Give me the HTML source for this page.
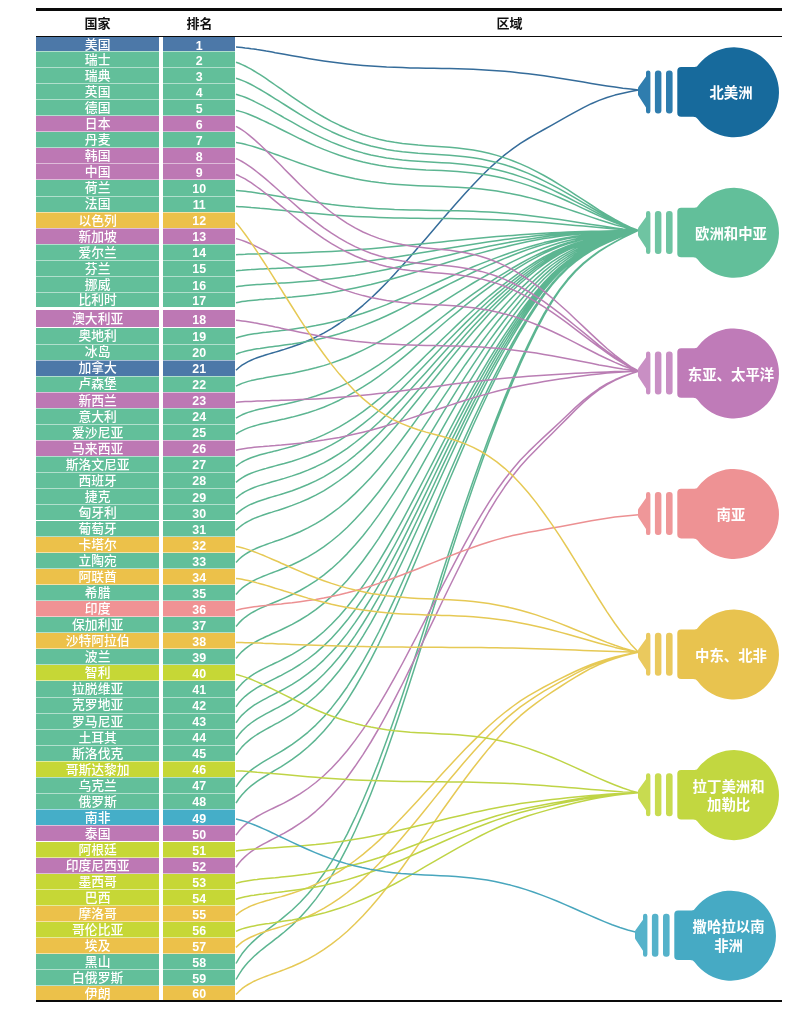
<!DOCTYPE html>
<html lang="zh-CN"><head><meta charset="utf-8"><title>排名</title>
<style>
html,body{margin:0;padding:0;background:#fff;}
body{width:800px;height:1012px;position:relative;overflow:hidden;font-family:"Liberation Sans","Noto Sans CJK SC",sans-serif;}
.b{position:absolute;left:36px;width:199.4px;}
.s{position:absolute;left:36px;width:199.4px;height:1px;background:rgba(255,255,255,0.5);}
.g{position:absolute;left:159.3px;width:3.6px;top:37px;height:964px;background:#fff;}
.r{position:absolute;left:36px;width:123.3px;height:16px;line-height:16px;color:#fff;font-size:12.8px;font-weight:500;text-align:center;white-space:nowrap;}
.k{position:absolute;left:163px;width:72.4px;height:16px;line-height:16px;color:#fff;font-size:12.4px;font-weight:bold;text-align:center;white-space:nowrap;}
.h{position:absolute;top:14px;height:19px;line-height:19px;font-size:13px;font-weight:bold;color:#111;text-align:center;width:60px;}
.ln{position:absolute;left:36px;width:745.5px;background:#0a0a0a;}
svg{position:absolute;left:0;top:0;}
svg text{font-family:"Liberation Sans","Noto Sans CJK SC",sans-serif;font-weight:bold;font-size:14.4px;fill:#fff;text-anchor:middle;}
</style></head><body>
<div class="ln" style="top:8.2px;height:2.4px"></div>
<div class="h" style="left:67.6px">国家</div><div class="h" style="left:169.5px">排名</div><div class="h" style="left:479.6px">区域</div>
<div class="b" style="top:36.50px;height:14.90px;background:#4c78a8"></div><div class="r" style="top:37px">美国</div><div class="k" style="top:38px">1</div>
<div class="b" style="top:51.40px;height:16.07px;background:#62bf9a"></div><div class="r" style="top:52px">瑞士</div><div class="k" style="top:53px">2</div>
<div class="b" style="top:67.47px;height:16.07px;background:#62bf9a"></div><div class="r" style="top:68px">瑞典</div><div class="k" style="top:69px">3</div>
<div class="b" style="top:83.54px;height:16.07px;background:#62bf9a"></div><div class="r" style="top:84px">英国</div><div class="k" style="top:85px">4</div>
<div class="b" style="top:99.61px;height:16.07px;background:#62bf9a"></div><div class="r" style="top:100px">德国</div><div class="k" style="top:101px">5</div>
<div class="b" style="top:115.68px;height:16.07px;background:#bd78b4"></div><div class="r" style="top:116px">日本</div><div class="k" style="top:117px">6</div>
<div class="b" style="top:131.75px;height:16.07px;background:#62bf9a"></div><div class="r" style="top:132px">丹麦</div><div class="k" style="top:133px">7</div>
<div class="b" style="top:147.82px;height:16.07px;background:#bd78b4"></div><div class="r" style="top:148px">韩国</div><div class="k" style="top:149px">8</div>
<div class="b" style="top:163.89px;height:16.07px;background:#bd78b4"></div><div class="r" style="top:164px">中国</div><div class="k" style="top:165px">9</div>
<div class="b" style="top:179.96px;height:16.07px;background:#62bf9a"></div><div class="r" style="top:180px">荷兰</div><div class="k" style="top:181px">10</div>
<div class="b" style="top:196.03px;height:16.07px;background:#62bf9a"></div><div class="r" style="top:196px">法国</div><div class="k" style="top:197px">11</div>
<div class="b" style="top:212.10px;height:16.07px;background:#ecc14a"></div><div class="r" style="top:213px">以色列</div><div class="k" style="top:213px">12</div>
<div class="b" style="top:228.17px;height:16.07px;background:#bd78b4"></div><div class="r" style="top:229px">新加坡</div><div class="k" style="top:229px">13</div>
<div class="b" style="top:244.24px;height:16.07px;background:#62bf9a"></div><div class="r" style="top:245px">爱尔兰</div><div class="k" style="top:245px">14</div>
<div class="b" style="top:260.31px;height:16.07px;background:#62bf9a"></div><div class="r" style="top:261px">芬兰</div><div class="k" style="top:261px">15</div>
<div class="b" style="top:276.38px;height:16.07px;background:#62bf9a"></div><div class="r" style="top:277px">挪威</div><div class="k" style="top:278px">16</div>
<div class="b" style="top:292.45px;height:14.77px;background:#62bf9a"></div><div class="r" style="top:292px">比利时</div><div class="k" style="top:293px">17</div>
<div class="b" style="top:309.82px;height:17.18px;background:#bd78b4"></div><div class="r" style="top:311px">澳大利亚</div><div class="k" style="top:312px">18</div>
<div class="b" style="top:328.00px;height:16.00px;background:#62bf9a"></div><div class="r" style="top:328px">奥地利</div><div class="k" style="top:329px">19</div>
<div class="b" style="top:344.00px;height:16.00px;background:#62bf9a"></div><div class="r" style="top:344px">冰岛</div><div class="k" style="top:345px">20</div>
<div class="b" style="top:360.00px;height:16.05px;background:#4c78a8"></div><div class="r" style="top:360px">加拿大</div><div class="k" style="top:361px">21</div>
<div class="b" style="top:376.05px;height:16.05px;background:#62bf9a"></div><div class="r" style="top:376px">卢森堡</div><div class="k" style="top:377px">22</div>
<div class="b" style="top:392.10px;height:16.05px;background:#bd78b4"></div><div class="r" style="top:393px">新西兰</div><div class="k" style="top:393px">23</div>
<div class="b" style="top:408.15px;height:16.05px;background:#62bf9a"></div><div class="r" style="top:409px">意大利</div><div class="k" style="top:409px">24</div>
<div class="b" style="top:424.20px;height:16.05px;background:#62bf9a"></div><div class="r" style="top:425px">爱沙尼亚</div><div class="k" style="top:425px">25</div>
<div class="b" style="top:440.25px;height:16.05px;background:#bd78b4"></div><div class="r" style="top:441px">马来西亚</div><div class="k" style="top:441px">26</div>
<div class="b" style="top:456.30px;height:16.05px;background:#62bf9a"></div><div class="r" style="top:457px">斯洛文尼亚</div><div class="k" style="top:457px">27</div>
<div class="b" style="top:472.35px;height:16.05px;background:#62bf9a"></div><div class="r" style="top:473px">西班牙</div><div class="k" style="top:473px">28</div>
<div class="b" style="top:488.40px;height:16.05px;background:#62bf9a"></div><div class="r" style="top:489px">捷克</div><div class="k" style="top:490px">29</div>
<div class="b" style="top:504.45px;height:16.05px;background:#62bf9a"></div><div class="r" style="top:505px">匈牙利</div><div class="k" style="top:506px">30</div>
<div class="b" style="top:520.50px;height:16.05px;background:#62bf9a"></div><div class="r" style="top:521px">葡萄牙</div><div class="k" style="top:522px">31</div>
<div class="b" style="top:536.55px;height:16.05px;background:#ecc14a"></div><div class="r" style="top:537px">卡塔尔</div><div class="k" style="top:538px">32</div>
<div class="b" style="top:552.60px;height:16.05px;background:#62bf9a"></div><div class="r" style="top:553px">立陶宛</div><div class="k" style="top:554px">33</div>
<div class="b" style="top:568.65px;height:16.05px;background:#ecc14a"></div><div class="r" style="top:569px">阿联酋</div><div class="k" style="top:570px">34</div>
<div class="b" style="top:584.70px;height:16.05px;background:#62bf9a"></div><div class="r" style="top:585px">希腊</div><div class="k" style="top:586px">35</div>
<div class="b" style="top:600.75px;height:16.05px;background:#f09294"></div><div class="r" style="top:601px">印度</div><div class="k" style="top:602px">36</div>
<div class="b" style="top:616.80px;height:16.05px;background:#62bf9a"></div><div class="r" style="top:617px">保加利亚</div><div class="k" style="top:618px">37</div>
<div class="b" style="top:632.85px;height:16.05px;background:#ecc14a"></div><div class="r" style="top:633px">沙特阿拉伯</div><div class="k" style="top:634px">38</div>
<div class="b" style="top:648.90px;height:16.05px;background:#62bf9a"></div><div class="r" style="top:649px">波兰</div><div class="k" style="top:650px">39</div>
<div class="b" style="top:664.95px;height:16.05px;background:#c6d736"></div><div class="r" style="top:665px">智利</div><div class="k" style="top:666px">40</div>
<div class="b" style="top:681.00px;height:16.05px;background:#62bf9a"></div><div class="r" style="top:681px">拉脱维亚</div><div class="k" style="top:682px">41</div>
<div class="b" style="top:697.05px;height:16.05px;background:#62bf9a"></div><div class="r" style="top:697px">克罗地亚</div><div class="k" style="top:698px">42</div>
<div class="b" style="top:713.10px;height:16.05px;background:#62bf9a"></div><div class="r" style="top:714px">罗马尼亚</div><div class="k" style="top:714px">43</div>
<div class="b" style="top:729.15px;height:16.05px;background:#62bf9a"></div><div class="r" style="top:730px">土耳其</div><div class="k" style="top:730px">44</div>
<div class="b" style="top:745.20px;height:16.05px;background:#62bf9a"></div><div class="r" style="top:746px">斯洛伐克</div><div class="k" style="top:746px">45</div>
<div class="b" style="top:761.25px;height:16.05px;background:#c6d736"></div><div class="r" style="top:762px">哥斯达黎加</div><div class="k" style="top:762px">46</div>
<div class="b" style="top:777.30px;height:16.05px;background:#62bf9a"></div><div class="r" style="top:778px">乌克兰</div><div class="k" style="top:778px">47</div>
<div class="b" style="top:793.35px;height:16.05px;background:#62bf9a"></div><div class="r" style="top:794px">俄罗斯</div><div class="k" style="top:794px">48</div>
<div class="b" style="top:809.40px;height:16.05px;background:#45aec8"></div><div class="r" style="top:810px">南非</div><div class="k" style="top:811px">49</div>
<div class="b" style="top:825.45px;height:16.05px;background:#bd78b4"></div><div class="r" style="top:826px">泰国</div><div class="k" style="top:827px">50</div>
<div class="b" style="top:841.50px;height:16.05px;background:#c6d736"></div><div class="r" style="top:842px">阿根廷</div><div class="k" style="top:843px">51</div>
<div class="b" style="top:857.55px;height:16.05px;background:#bd78b4"></div><div class="r" style="top:858px">印度尼西亚</div><div class="k" style="top:859px">52</div>
<div class="b" style="top:873.60px;height:16.05px;background:#c6d736"></div><div class="r" style="top:874px">墨西哥</div><div class="k" style="top:875px">53</div>
<div class="b" style="top:889.65px;height:16.05px;background:#c6d736"></div><div class="r" style="top:890px">巴西</div><div class="k" style="top:891px">54</div>
<div class="b" style="top:905.70px;height:16.05px;background:#ecc14a"></div><div class="r" style="top:906px">摩洛哥</div><div class="k" style="top:907px">55</div>
<div class="b" style="top:921.75px;height:16.05px;background:#c6d736"></div><div class="r" style="top:922px">哥伦比亚</div><div class="k" style="top:923px">56</div>
<div class="b" style="top:937.80px;height:16.05px;background:#ecc14a"></div><div class="r" style="top:938px">埃及</div><div class="k" style="top:939px">57</div>
<div class="b" style="top:953.85px;height:16.05px;background:#62bf9a"></div><div class="r" style="top:954px">黑山</div><div class="k" style="top:955px">58</div>
<div class="b" style="top:969.90px;height:16.05px;background:#62bf9a"></div><div class="r" style="top:970px">白俄罗斯</div><div class="k" style="top:971px">59</div>
<div class="b" style="top:985.95px;height:14.55px;background:#ecc14a"></div><div class="r" style="top:986px">伊朗</div><div class="k" style="top:986px">60</div>
<div class="s" style="top:51px"></div><div class="s" style="top:67px"></div><div class="s" style="top:83px"></div><div class="s" style="top:99px"></div><div class="s" style="top:115px"></div><div class="s" style="top:131px"></div><div class="s" style="top:147px"></div><div class="s" style="top:163px"></div><div class="s" style="top:179px"></div><div class="s" style="top:196px"></div><div class="s" style="top:212px"></div><div class="s" style="top:228px"></div><div class="s" style="top:244px"></div><div class="s" style="top:260px"></div><div class="s" style="top:276px"></div><div class="s" style="top:292px"></div><div class="s" style="top:344px"></div><div class="s" style="top:360px"></div><div class="s" style="top:376px"></div><div class="s" style="top:392px"></div><div class="s" style="top:408px"></div><div class="s" style="top:424px"></div><div class="s" style="top:440px"></div><div class="s" style="top:456px"></div><div class="s" style="top:472px"></div><div class="s" style="top:488px"></div><div class="s" style="top:504px"></div><div class="s" style="top:520px"></div><div class="s" style="top:536px"></div><div class="s" style="top:552px"></div><div class="s" style="top:568px"></div><div class="s" style="top:584px"></div><div class="s" style="top:600px"></div><div class="s" style="top:616px"></div><div class="s" style="top:632px"></div><div class="s" style="top:648px"></div><div class="s" style="top:664px"></div><div class="s" style="top:680px"></div><div class="s" style="top:697px"></div><div class="s" style="top:713px"></div><div class="s" style="top:729px"></div><div class="s" style="top:745px"></div><div class="s" style="top:761px"></div><div class="s" style="top:777px"></div><div class="s" style="top:793px"></div><div class="s" style="top:809px"></div><div class="s" style="top:825px"></div><div class="s" style="top:841px"></div><div class="s" style="top:857px"></div><div class="s" style="top:873px"></div><div class="s" style="top:889px"></div><div class="s" style="top:905px"></div><div class="s" style="top:921px"></div><div class="s" style="top:937px"></div><div class="s" style="top:953px"></div><div class="s" style="top:969px"></div><div class="s" style="top:985px"></div><div class="g"></div>
<div class="ln" style="top:35.9px;height:1.4px"></div>
<div class="ln" style="top:999.6px;height:2.8px"></div>
<svg width="800" height="1012" viewBox="0 0 800 1012">
<path d="M236.0,47.0 239.0,47.2 242.0,47.5 245.1,47.9 248.1,48.2 251.1,48.7 254.1,49.1 257.1,49.6 260.1,50.0 263.2,50.5 266.2,51.1 269.2,51.6 272.2,52.1 275.2,52.7 278.3,53.2 281.3,53.7 284.3,54.3 292.2,55.7 300.0,57.1 307.9,58.4 315.8,59.7 323.7,60.9 331.5,62.0 339.4,63.0 347.3,63.9 355.1,64.7 363.0,65.4 370.9,66.0 378.8,66.5 386.6,67.0 394.5,67.3 402.4,67.6 410.2,67.9 418.1,68.0 426.0,68.2 433.9,68.3 441.7,68.5 449.6,68.6 457.5,68.8 465.3,69.0 473.2,69.3 481.1,69.7 488.9,70.2 496.8,70.7 504.7,71.3 512.6,72.0 520.4,72.9 528.3,73.8 536.2,74.8 544.0,75.8 551.9,77.0 559.8,78.2 567.7,79.5 575.5,80.8 583.4,82.1 591.3,83.4 599.1,84.7 607.0,85.9 614.9,87.1 622.8,88.2 630.6,89.1 638.5,89.9 M236.0,370.2 239.0,367.5 242.0,365.2 245.1,363.3 248.1,361.6 251.1,360.2 254.1,358.9 257.1,357.8 260.1,356.7 263.2,355.8 266.2,354.8 269.2,353.9 272.2,353.0 275.2,352.1 278.3,351.2 281.3,350.3 284.3,349.4 292.2,346.8 300.0,344.0 307.9,340.8 315.8,337.2 323.7,333.1 331.5,328.6 339.4,323.5 347.3,318.0 355.1,311.9 363.0,305.3 370.9,298.2 378.8,290.6 386.6,282.7 394.5,274.3 402.4,265.6 410.2,256.7 418.1,247.6 426.0,238.4 433.9,229.2 441.7,220.0 449.6,210.9 457.5,201.9 465.3,193.2 473.2,184.7 481.1,176.5 488.9,168.8 496.8,161.6 504.7,154.9 512.6,148.9 520.4,143.4 528.3,138.5 536.2,133.9 544.0,129.5 551.9,125.1 559.8,120.7 567.7,116.2 575.5,111.8 583.4,107.6 591.3,103.7 599.1,100.4 607.0,97.5 614.9,95.1 622.8,93.2 630.6,91.5 638.5,90.0" fill="none" stroke="#356c9a" stroke-width="1.5" stroke-linejoin="round"/>
<path d="M236.0,62.3 239.0,63.3 242.0,64.6 245.1,66.0 248.1,67.6 251.1,69.2 254.1,71.0 257.1,72.8 260.1,74.7 263.2,76.7 266.2,78.7 269.2,80.8 272.2,82.9 275.2,85.0 278.3,87.1 281.3,89.2 284.3,91.3 292.2,96.8 300.0,102.2 307.9,107.4 315.8,112.4 323.7,117.0 331.5,121.3 339.4,125.2 347.3,128.8 355.1,131.9 363.0,134.7 370.9,137.1 378.8,139.2 386.6,140.9 394.5,142.3 402.4,143.4 410.2,144.3 418.1,145.1 426.0,145.7 433.9,146.2 441.7,146.7 449.6,147.3 457.5,148.1 465.3,149.0 473.2,150.1 481.1,151.6 488.9,153.3 496.8,155.4 504.7,157.9 512.6,160.7 520.4,163.9 528.3,167.4 536.2,171.3 544.0,175.5 551.9,180.0 559.8,184.8 567.7,189.7 575.5,194.8 583.4,199.9 591.3,205.0 599.1,210.1 607.0,214.9 614.9,219.5 622.8,223.7 630.6,227.4 638.5,230.5 M236.0,78.3 239.0,79.2 242.0,80.4 245.1,81.6 248.1,83.0 251.1,84.5 254.1,86.1 257.1,87.8 260.1,89.5 263.2,91.3 266.2,93.1 269.2,95.0 272.2,96.9 275.2,98.8 278.3,100.7 281.3,102.6 284.3,104.5 292.2,109.5 300.0,114.4 307.9,119.1 315.8,123.6 323.7,127.8 331.5,131.7 339.4,135.2 347.3,138.4 355.1,141.3 363.0,143.8 370.9,146.0 378.8,147.8 386.6,149.4 394.5,150.7 402.4,151.7 410.2,152.5 418.1,153.2 426.0,153.7 433.9,154.2 441.7,154.7 449.6,155.2 457.5,155.9 465.3,156.7 473.2,157.8 481.1,159.1 488.9,160.7 496.8,162.6 504.7,164.8 512.6,167.3 520.4,170.2 528.3,173.4 536.2,177.0 544.0,180.8 551.9,184.8 559.8,189.1 567.7,193.6 575.5,198.2 583.4,202.8 591.3,207.5 599.1,212.0 607.0,216.4 614.9,220.6 622.8,224.4 630.6,227.7 638.5,230.5 M236.0,94.3 239.0,95.2 242.0,96.1 245.1,97.3 248.1,98.5 251.1,99.9 254.1,101.3 257.1,102.8 260.1,104.3 263.2,105.9 266.2,107.6 269.2,109.2 272.2,110.9 275.2,112.6 278.3,114.3 281.3,116.0 284.3,117.8 292.2,122.2 300.0,126.6 307.9,130.8 315.8,134.8 323.7,138.6 331.5,142.1 339.4,145.2 347.3,148.1 355.1,150.7 363.0,152.9 370.9,154.9 378.8,156.5 386.6,157.9 394.5,159.1 402.4,160.0 410.2,160.7 418.1,161.3 426.0,161.8 433.9,162.2 441.7,162.7 449.6,163.1 457.5,163.7 465.3,164.5 473.2,165.4 481.1,166.6 488.9,168.0 496.8,169.7 504.7,171.7 512.6,174.0 520.4,176.6 528.3,179.4 536.2,182.6 544.0,186.0 551.9,189.6 559.8,193.5 567.7,197.5 575.5,201.6 583.4,205.7 591.3,209.9 599.1,214.0 607.0,217.9 614.9,221.6 622.8,225.0 630.6,228.0 638.5,230.5 M236.0,110.4 239.0,111.1 242.0,111.9 245.1,112.9 248.1,114.0 251.1,115.2 254.1,116.5 257.1,117.8 260.1,119.2 263.2,120.6 266.2,122.0 269.2,123.5 272.2,124.9 275.2,126.4 278.3,128.0 281.3,129.5 284.3,131.0 292.2,134.9 300.0,138.8 307.9,142.5 315.8,146.1 323.7,149.4 331.5,152.4 339.4,155.3 347.3,157.8 355.1,160.0 363.0,162.0 370.9,163.7 378.8,165.2 386.6,166.4 394.5,167.4 402.4,168.3 410.2,168.9 418.1,169.4 426.0,169.9 433.9,170.2 441.7,170.6 449.6,171.0 457.5,171.6 465.3,172.2 473.2,173.0 481.1,174.1 488.9,175.3 496.8,176.8 504.7,178.6 512.6,180.6 520.4,182.9 528.3,185.4 536.2,188.2 544.0,191.2 551.9,194.4 559.8,197.8 567.7,201.3 575.5,204.9 583.4,208.6 591.3,212.3 599.1,215.9 607.0,219.4 614.9,222.6 622.8,225.6 630.6,228.3 638.5,230.5 M236.0,142.4 239.0,142.9 242.0,143.5 245.1,144.3 248.1,145.1 251.1,145.9 254.1,146.8 257.1,147.8 260.1,148.8 263.2,149.8 266.2,150.9 269.2,152.0 272.2,153.1 275.2,154.2 278.3,155.3 281.3,156.4 284.3,157.5 292.2,160.4 300.0,163.2 307.9,165.9 315.8,168.5 323.7,171.0 331.5,173.2 339.4,175.3 347.3,177.1 355.1,178.8 363.0,180.2 370.9,181.5 378.8,182.6 386.6,183.5 394.5,184.2 402.4,184.8 410.2,185.3 418.1,185.7 426.0,186.0 433.9,186.3 441.7,186.6 449.6,186.9 457.5,187.3 465.3,187.7 473.2,188.3 481.1,189.1 488.9,190.0 496.8,191.1 504.7,192.4 512.6,193.9 520.4,195.6 528.3,197.4 536.2,199.5 544.0,201.7 551.9,204.0 559.8,206.5 567.7,209.1 575.5,211.7 583.4,214.4 591.3,217.1 599.1,219.8 607.0,222.3 614.9,224.7 622.8,226.9 630.6,228.9 638.5,230.5 M236.0,190.5 239.0,190.7 242.0,191.0 245.1,191.3 248.1,191.7 251.1,192.1 254.1,192.5 257.1,192.9 260.1,193.4 263.2,193.8 266.2,194.3 269.2,194.8 272.2,195.3 275.2,195.8 278.3,196.3 281.3,196.8 284.3,197.3 292.2,198.6 300.0,199.9 307.9,201.1 315.8,202.3 323.7,203.4 331.5,204.5 339.4,205.4 347.3,206.2 355.1,207.0 363.0,207.6 370.9,208.2 378.8,208.7 386.6,209.1 394.5,209.5 402.4,209.7 410.2,209.9 418.1,210.1 426.0,210.3 433.9,210.4 441.7,210.5 449.6,210.7 457.5,210.8 465.3,211.1 473.2,211.3 481.1,211.7 488.9,212.1 496.8,212.6 504.7,213.2 512.6,213.8 520.4,214.6 528.3,215.4 536.2,216.4 544.0,217.4 551.9,218.5 559.8,219.6 567.7,220.8 575.5,222.0 583.4,223.2 591.3,224.4 599.1,225.6 607.0,226.8 614.9,227.9 622.8,228.9 630.6,229.7 638.5,230.5 M236.0,206.6 239.0,206.7 242.0,206.8 245.1,207.0 248.1,207.2 251.1,207.5 254.1,207.7 257.1,208.0 260.1,208.3 263.2,208.5 266.2,208.8 269.2,209.1 272.2,209.4 275.2,209.7 278.3,210.0 281.3,210.3 284.3,210.6 292.2,211.4 300.0,212.2 307.9,212.9 315.8,213.6 323.7,214.3 331.5,214.9 339.4,215.5 347.3,216.0 355.1,216.4 363.0,216.8 370.9,217.1 378.8,217.4 386.6,217.7 394.5,217.9 402.4,218.0 410.2,218.2 418.1,218.3 426.0,218.4 433.9,218.4 441.7,218.5 449.6,218.6 457.5,218.7 465.3,218.8 473.2,219.0 481.1,219.2 488.9,219.5 496.8,219.8 504.7,220.1 512.6,220.5 520.4,221.0 528.3,221.5 536.2,222.0 544.0,222.6 551.9,223.3 559.8,223.9 567.7,224.7 575.5,225.4 583.4,226.1 591.3,226.8 599.1,227.6 607.0,228.3 614.9,228.9 622.8,229.5 630.6,230.0 638.5,230.5 M236.0,254.7 239.0,254.5 242.0,254.4 245.1,254.3 248.1,254.1 251.1,254.0 254.1,254.0 257.1,253.9 260.1,253.8 263.2,253.7 266.2,253.6 269.2,253.6 272.2,253.5 275.2,253.4 278.3,253.3 281.3,253.3 284.3,253.2 292.2,252.9 300.0,252.7 307.9,252.4 315.8,252.1 323.7,251.8 331.5,251.4 339.4,250.9 347.3,250.4 355.1,249.9 363.0,249.3 370.9,248.7 378.8,248.0 386.6,247.3 394.5,246.6 402.4,245.8 410.2,245.1 418.1,244.3 426.0,243.5 433.9,242.7 441.7,241.9 449.6,241.1 457.5,240.3 465.3,239.5 473.2,238.8 481.1,238.0 488.9,237.3 496.8,236.6 504.7,236.0 512.6,235.4 520.4,234.8 528.3,234.2 536.2,233.7 544.0,233.2 551.9,232.8 559.8,232.4 567.7,232.1 575.5,231.8 583.4,231.6 591.3,231.3 599.1,231.2 607.0,231.0 614.9,230.8 622.8,230.7 630.6,230.6 638.5,230.5 M236.0,270.7 239.0,270.4 242.0,270.2 245.1,269.9 248.1,269.7 251.1,269.6 254.1,269.4 257.1,269.2 260.1,269.1 263.2,269.0 266.2,268.8 269.2,268.7 272.2,268.6 275.2,268.5 278.3,268.3 281.3,268.2 284.3,268.1 292.2,267.7 300.0,267.3 307.9,266.8 315.8,266.3 323.7,265.7 331.5,265.1 339.4,264.3 347.3,263.5 355.1,262.6 363.0,261.7 370.9,260.7 378.8,259.6 386.6,258.4 394.5,257.2 402.4,255.9 410.2,254.7 418.1,253.3 426.0,252.0 433.9,250.7 441.7,249.3 449.6,248.0 457.5,246.7 465.3,245.4 473.2,244.2 481.1,243.0 488.9,241.8 496.8,240.7 504.7,239.6 512.6,238.6 520.4,237.6 528.3,236.7 536.2,235.8 544.0,235.0 551.9,234.3 559.8,233.7 567.7,233.1 575.5,232.7 583.4,232.3 591.3,231.9 599.1,231.6 607.0,231.3 614.9,231.1 622.8,230.9 630.6,230.7 638.5,230.5 M236.0,286.8 239.0,286.3 242.0,285.9 245.1,285.6 248.1,285.3 251.1,285.0 254.1,284.8 257.1,284.6 260.1,284.4 263.2,284.2 266.2,284.0 269.2,283.8 272.2,283.7 275.2,283.5 278.3,283.3 281.3,283.1 284.3,282.9 292.2,282.4 300.0,281.8 307.9,281.2 315.8,280.5 323.7,279.6 331.5,278.7 339.4,277.7 347.3,276.6 355.1,275.4 363.0,274.0 370.9,272.6 378.8,271.1 386.6,269.4 394.5,267.8 402.4,266.0 410.2,264.2 418.1,262.4 426.0,260.5 433.9,258.6 441.7,256.8 449.6,254.9 457.5,253.1 465.3,251.3 473.2,249.6 481.1,247.9 488.9,246.3 496.8,244.7 504.7,243.2 512.6,241.8 520.4,240.4 528.3,239.2 536.2,237.9 544.0,236.8 551.9,235.8 559.8,235.0 567.7,234.2 575.5,233.5 583.4,233.0 591.3,232.5 599.1,232.1 607.0,231.7 614.9,231.3 622.8,231.0 630.6,230.7 638.5,230.5 M236.0,302.8 239.0,302.2 242.0,301.6 245.1,301.2 248.1,300.8 251.1,300.5 254.1,300.2 257.1,299.9 260.1,299.6 263.2,299.4 266.2,299.1 269.2,298.9 272.2,298.7 275.2,298.5 278.3,298.2 281.3,298.0 284.3,297.7 292.2,297.1 300.0,296.3 307.9,295.5 315.8,294.6 323.7,293.5 331.5,292.4 339.4,291.1 347.3,289.6 355.1,288.0 363.0,286.3 370.9,284.5 378.8,282.5 386.6,280.5 394.5,278.3 402.4,276.0 410.2,273.7 418.1,271.4 426.0,269.0 433.9,266.6 441.7,264.2 449.6,261.8 457.5,259.5 465.3,257.2 473.2,255.0 481.1,252.9 488.9,250.8 496.8,248.8 504.7,246.9 512.6,245.0 520.4,243.3 528.3,241.6 536.2,240.1 544.0,238.6 551.9,237.4 559.8,236.2 567.7,235.2 575.5,234.4 583.4,233.7 591.3,233.0 599.1,232.5 607.0,232.0 614.9,231.6 622.8,231.2 630.6,230.8 638.5,230.5 M236.0,338.0 239.0,337.0 242.0,336.2 245.1,335.5 248.1,334.8 251.1,334.3 254.1,333.8 257.1,333.4 260.1,333.0 263.2,332.6 266.2,332.3 269.2,331.9 272.2,331.6 275.2,331.2 278.3,330.9 281.3,330.6 284.3,330.2 292.2,329.2 300.0,328.1 307.9,326.9 315.8,325.5 323.7,323.9 331.5,322.2 339.4,320.3 347.3,318.1 355.1,315.8 363.0,313.3 370.9,310.5 378.8,307.6 386.6,304.6 394.5,301.3 402.4,298.0 410.2,294.6 418.1,291.1 426.0,287.6 433.9,284.0 441.7,280.5 449.6,277.0 457.5,273.5 465.3,270.1 473.2,266.8 481.1,263.6 488.9,260.6 496.8,257.6 504.7,254.7 512.6,252.0 520.4,249.4 528.3,247.0 536.2,244.7 544.0,242.6 551.9,240.7 559.8,239.0 567.7,237.5 575.5,236.3 583.4,235.2 591.3,234.3 599.1,233.5 607.0,232.8 614.9,232.1 622.8,231.5 630.6,231.0 638.5,230.5 M236.0,354.2 239.0,353.0 242.0,352.1 245.1,351.2 248.1,350.5 251.1,349.9 254.1,349.3 257.1,348.8 260.1,348.4 263.2,347.9 266.2,347.5 269.2,347.1 272.2,346.7 275.2,346.3 278.3,345.9 281.3,345.5 284.3,345.1 292.2,344.0 300.0,342.7 307.9,341.3 315.8,339.7 323.7,337.9 331.5,335.9 339.4,333.7 347.3,331.3 355.1,328.6 363.0,325.6 370.9,322.5 378.8,319.2 386.6,315.7 394.5,312.0 402.4,308.1 410.2,304.2 418.1,300.2 426.0,296.1 433.9,292.0 441.7,288.0 449.6,283.9 457.5,280.0 465.3,276.1 473.2,272.3 481.1,268.6 488.9,265.1 496.8,261.7 504.7,258.4 512.6,255.3 520.4,252.3 528.3,249.4 536.2,246.8 544.0,244.4 551.9,242.2 559.8,240.3 567.7,238.6 575.5,237.2 583.4,235.9 591.3,234.9 599.1,233.9 607.0,233.1 614.9,232.4 622.8,231.7 630.6,231.0 638.5,230.5 M236.0,386.2 239.0,384.7 242.0,383.4 245.1,382.4 248.1,381.4 251.1,380.6 254.1,379.9 257.1,379.3 260.1,378.7 263.2,378.2 266.2,377.6 269.2,377.1 272.2,376.6 275.2,376.1 278.3,375.6 281.3,375.1 284.3,374.6 292.2,373.2 300.0,371.6 307.9,369.8 315.8,367.8 323.7,365.6 331.5,363.1 339.4,360.3 347.3,357.2 355.1,353.8 363.0,350.1 370.9,346.2 378.8,342.0 386.6,337.6 394.5,332.9 402.4,328.1 410.2,323.1 418.1,318.1 426.0,313.0 433.9,307.8 441.7,302.7 449.6,297.7 457.5,292.7 465.3,287.8 473.2,283.0 481.1,278.4 488.9,274.0 496.8,269.7 504.7,265.6 512.6,261.6 520.4,257.9 528.3,254.3 536.2,251.0 544.0,248.0 551.9,245.2 559.8,242.8 567.7,240.7 575.5,238.9 583.4,237.3 591.3,236.0 599.1,234.8 607.0,233.8 614.9,232.8 622.8,232.0 630.6,231.2 638.5,230.4 M236.0,418.2 239.0,416.4 242.0,414.8 245.1,413.5 248.1,412.4 251.1,411.5 254.1,410.6 257.1,409.8 260.1,409.1 263.2,408.4 266.2,407.8 269.2,407.2 272.2,406.6 275.2,406.0 278.3,405.4 281.3,404.8 284.3,404.2 292.2,402.4 300.0,400.5 307.9,398.4 315.8,396.0 323.7,393.3 331.5,390.2 339.4,386.9 347.3,383.1 355.1,379.1 363.0,374.7 370.9,369.9 378.8,364.8 386.6,359.5 394.5,353.9 402.4,348.1 410.2,342.1 418.1,336.0 426.0,329.9 433.9,323.7 441.7,317.5 449.6,311.4 457.5,305.4 465.3,299.6 473.2,293.8 481.1,288.3 488.9,282.9 496.8,277.7 504.7,272.8 512.6,268.0 520.4,263.5 528.3,259.2 536.2,255.2 544.0,251.5 551.9,248.2 559.8,245.3 567.7,242.8 575.5,240.6 583.4,238.7 591.3,237.1 599.1,235.7 607.0,234.5 614.9,233.3 622.8,232.3 630.6,231.3 638.5,230.4 M236.0,434.2 239.0,432.2 242.0,430.6 245.1,429.1 248.1,427.9 251.1,426.9 254.1,426.0 257.1,425.1 260.1,424.3 263.2,423.6 266.2,422.9 269.2,422.3 272.2,421.6 275.2,421.0 278.3,420.3 281.3,419.6 284.3,419.0 292.2,417.1 300.0,415.0 307.9,412.7 315.8,410.1 323.7,407.2 331.5,403.9 339.4,400.2 347.3,396.1 355.1,391.7 363.0,386.9 370.9,381.8 378.8,376.3 386.6,370.5 394.5,364.4 402.4,358.1 410.2,351.6 418.1,345.0 426.0,338.4 433.9,331.7 441.7,325.0 449.6,318.3 457.5,311.8 465.3,305.4 473.2,299.2 481.1,293.2 488.9,287.4 496.8,281.7 504.7,276.4 512.6,271.2 520.4,266.3 528.3,261.7 536.2,257.3 544.0,253.3 551.9,249.7 559.8,246.6 567.7,243.8 575.5,241.5 583.4,239.4 591.3,237.7 599.1,236.2 607.0,234.8 614.9,233.6 622.8,232.5 630.6,231.4 638.5,230.4 M236.0,466.3 239.0,464.0 242.0,462.0 245.1,460.4 248.1,459.0 251.1,457.8 254.1,456.7 257.1,455.7 260.1,454.8 263.2,454.0 266.2,453.2 269.2,452.4 272.2,451.7 275.2,450.9 278.3,450.2 281.3,449.4 284.3,448.6 292.2,446.5 300.0,444.1 307.9,441.4 315.8,438.4 323.7,434.9 331.5,431.1 339.4,426.9 347.3,422.2 355.1,417.1 363.0,411.6 370.9,405.6 378.8,399.2 386.6,392.5 394.5,385.5 402.4,378.2 410.2,370.7 418.1,363.1 426.0,355.3 433.9,347.6 441.7,339.8 449.6,332.2 457.5,324.6 465.3,317.2 473.2,310.0 481.1,303.1 488.9,296.3 496.8,289.8 504.7,283.6 512.6,277.6 520.4,271.9 528.3,266.6 536.2,261.5 544.0,256.9 551.9,252.8 559.8,249.1 567.7,245.9 575.5,243.2 583.4,240.9 591.3,238.8 599.1,237.1 607.0,235.5 614.9,234.1 622.8,232.8 630.6,231.6 638.5,230.4 M236.0,482.3 239.0,479.8 242.0,477.8 245.1,476.0 248.1,474.5 251.1,473.2 254.1,472.1 257.1,471.1 260.1,470.1 263.2,469.2 266.2,468.4 269.2,467.5 272.2,466.7 275.2,465.9 278.3,465.1 281.3,464.3 284.3,463.5 292.2,461.2 300.0,458.6 307.9,455.8 315.8,452.5 323.7,448.9 331.5,444.8 339.4,440.3 347.3,435.3 355.1,429.8 363.0,423.9 370.9,417.5 378.8,410.7 386.6,403.6 394.5,396.1 402.4,388.3 410.2,380.3 418.1,372.1 426.0,363.8 433.9,355.5 441.7,347.3 449.6,339.1 457.5,331.0 465.3,323.1 473.2,315.5 481.1,308.0 488.9,300.8 496.8,293.9 504.7,287.2 512.6,280.8 520.4,274.8 528.3,269.0 536.2,263.7 544.0,258.7 551.9,254.3 559.8,250.4 567.7,247.0 575.5,244.1 583.4,241.6 591.3,239.4 599.1,237.5 607.0,235.8 614.9,234.3 622.8,232.9 630.6,231.6 638.5,230.4 M236.0,498.3 239.0,495.7 242.0,493.5 245.1,491.7 248.1,490.1 251.1,488.7 254.1,487.5 257.1,486.4 260.1,485.4 263.2,484.5 266.2,483.6 269.2,482.7 272.2,481.8 275.2,481.0 278.3,480.1 281.3,479.2 284.3,478.4 292.2,475.9 300.0,473.2 307.9,470.1 315.8,466.7 323.7,462.8 331.5,458.5 339.4,453.7 347.3,448.4 355.1,442.5 363.0,436.2 370.9,429.5 378.8,422.2 386.6,414.6 394.5,406.6 402.4,398.4 410.2,389.8 418.1,381.1 426.0,372.4 433.9,363.5 441.7,354.7 449.6,346.0 457.5,337.5 465.3,329.1 473.2,320.9 481.1,312.9 488.9,305.3 496.8,297.9 504.7,290.8 512.6,284.0 520.4,277.6 528.3,271.5 536.2,265.8 544.0,260.5 551.9,255.8 559.8,251.7 567.7,248.0 575.5,244.9 583.4,242.3 591.3,240.0 599.1,238.0 607.0,236.2 614.9,234.6 622.8,233.1 630.6,231.7 638.5,230.4 M236.0,514.3 239.0,511.6 242.0,509.3 245.1,507.3 248.1,505.7 251.1,504.2 254.1,503.0 257.1,501.8 260.1,500.7 263.2,499.7 266.2,498.8 269.2,497.8 272.2,496.9 275.2,496.0 278.3,495.1 281.3,494.2 284.3,493.3 292.2,490.7 300.0,487.8 307.9,484.5 315.8,480.9 323.7,476.8 331.5,472.2 339.4,467.1 347.3,461.5 355.1,455.3 363.0,448.6 370.9,441.4 378.8,433.8 386.6,425.7 394.5,417.2 402.4,408.4 410.2,399.4 418.1,390.2 426.0,380.9 433.9,371.5 441.7,362.2 449.6,353.0 457.5,343.9 465.3,335.0 473.2,326.3 481.1,317.9 488.9,309.8 496.8,302.0 504.7,294.5 512.6,287.3 520.4,280.4 528.3,273.9 536.2,267.9 544.0,262.4 551.9,257.3 559.8,252.9 567.7,249.1 575.5,245.8 583.4,243.0 591.3,240.5 599.1,238.4 607.0,236.5 614.9,234.8 622.8,233.2 630.6,231.8 638.5,230.4 M236.0,530.3 239.0,527.5 242.0,525.1 245.1,523.0 248.1,521.3 251.1,519.8 254.1,518.4 257.1,517.2 260.1,516.1 263.2,515.0 266.2,514.0 269.2,513.0 272.2,512.1 275.2,511.1 278.3,510.2 281.3,509.2 284.3,508.2 292.2,505.4 300.0,502.4 307.9,499.0 315.8,495.1 323.7,490.8 331.5,485.9 339.4,480.5 347.3,474.6 355.1,468.1 363.0,461.0 370.9,453.4 378.8,445.3 386.6,436.8 394.5,427.8 402.4,418.6 410.2,409.0 418.1,399.3 426.0,389.4 433.9,379.5 441.7,369.7 449.6,359.9 457.5,350.3 465.3,340.9 473.2,331.8 481.1,322.9 488.9,314.3 496.8,306.0 504.7,298.1 512.6,290.5 520.4,283.3 528.3,276.4 536.2,270.0 544.0,264.2 551.9,258.9 559.8,254.2 567.7,250.1 575.5,246.7 583.4,243.7 591.3,241.1 599.1,238.9 607.0,236.9 614.9,235.0 622.8,233.4 630.6,231.9 638.5,230.4 M236.0,562.4 239.0,559.2 242.0,556.6 245.1,554.4 248.1,552.5 251.1,550.8 254.1,549.4 257.1,548.0 260.1,546.8 263.2,545.6 266.2,544.5 269.2,543.4 272.2,542.4 275.2,541.3 278.3,540.3 281.3,539.2 284.3,538.1 292.2,535.0 300.0,531.7 307.9,527.9 315.8,523.6 323.7,518.8 331.5,513.4 339.4,507.5 347.3,500.9 355.1,493.6 363.0,485.8 370.9,477.4 378.8,468.5 386.6,459.0 394.5,449.1 402.4,438.8 410.2,428.2 418.1,417.4 426.0,406.5 433.9,395.6 441.7,384.7 449.6,373.9 457.5,363.2 465.3,352.8 473.2,342.7 481.1,332.8 488.9,323.3 496.8,314.2 504.7,305.4 512.6,297.0 520.4,288.9 528.3,281.4 536.2,274.3 544.0,267.8 551.9,261.9 559.8,256.8 567.7,252.3 575.5,248.4 583.4,245.1 591.3,242.3 599.1,239.8 607.0,237.5 614.9,235.5 622.8,233.7 630.6,232.0 638.5,230.4 M236.0,594.4 239.0,591.0 242.0,588.2 245.1,585.9 248.1,583.8 251.1,582.0 254.1,580.4 257.1,578.9 260.1,577.6 263.2,576.3 266.2,575.1 269.2,573.9 272.2,572.8 275.2,571.6 278.3,570.5 281.3,569.3 284.3,568.1 292.2,564.7 300.0,561.0 307.9,556.9 315.8,552.2 323.7,546.9 331.5,541.0 339.4,534.5 347.3,527.2 355.1,519.3 363.0,510.7 370.9,501.5 378.8,491.7 386.6,481.3 394.5,470.4 402.4,459.1 410.2,447.5 418.1,435.7 426.0,423.7 433.9,411.7 441.7,399.7 449.6,387.9 457.5,376.2 465.3,364.7 473.2,353.6 481.1,342.8 488.9,332.4 496.8,322.3 504.7,312.7 512.6,303.4 520.4,294.6 528.3,286.3 536.2,278.6 544.0,271.4 551.9,265.0 559.8,259.3 567.7,254.4 575.5,250.2 583.4,246.5 591.3,243.4 599.1,240.7 607.0,238.2 614.9,236.0 622.8,234.0 630.6,232.2 638.5,230.4 M236.0,626.4 239.0,622.9 242.0,619.9 245.1,617.3 248.1,615.1 251.1,613.2 254.1,611.5 257.1,609.9 260.1,608.4 263.2,607.1 266.2,605.8 269.2,604.5 272.2,603.2 275.2,602.0 278.3,600.7 281.3,599.4 284.3,598.1 292.2,594.5 300.0,590.5 307.9,585.9 315.8,580.8 323.7,575.1 331.5,568.7 339.4,561.5 347.3,553.6 355.1,545.0 363.0,535.7 370.9,525.6 378.8,514.9 386.6,503.6 394.5,491.8 402.4,479.5 410.2,466.8 418.1,453.9 426.0,440.9 433.9,427.8 441.7,414.8 449.6,401.9 457.5,389.2 465.3,376.7 473.2,364.6 481.1,352.8 488.9,341.4 496.8,330.5 504.7,320.0 512.6,309.9 520.4,300.4 528.3,291.3 536.2,282.8 544.0,275.1 551.9,268.1 559.8,261.9 567.7,256.5 575.5,251.9 583.4,248.0 591.3,244.6 599.1,241.6 607.0,238.9 614.9,236.5 622.8,234.3 630.6,232.3 638.5,230.4 M236.0,658.5 239.0,654.8 242.0,651.6 245.1,648.9 248.1,646.6 251.1,644.5 254.1,642.7 257.1,641.0 260.1,639.4 263.2,638.0 266.2,636.5 269.2,635.2 272.2,633.8 275.2,632.5 278.3,631.1 281.3,629.7 284.3,628.3 292.2,624.4 300.0,620.0 307.9,615.1 315.8,609.6 323.7,603.4 331.5,596.4 339.4,588.7 347.3,580.2 355.1,570.8 363.0,560.7 370.9,549.8 378.8,538.3 386.6,526.0 394.5,513.2 402.4,499.9 410.2,486.2 418.1,472.3 426.0,458.2 433.9,444.0 441.7,429.9 449.6,415.9 457.5,402.2 465.3,388.7 473.2,375.6 481.1,362.8 488.9,350.5 496.8,338.7 504.7,327.3 512.6,316.5 520.4,306.1 528.3,296.3 536.2,287.1 544.0,278.7 551.9,271.2 559.8,264.5 567.7,258.7 575.5,253.7 583.4,249.4 591.3,245.7 599.1,242.5 607.0,239.6 614.9,237.0 622.8,234.7 630.6,232.5 638.5,230.4 M236.0,690.6 239.0,686.7 242.0,683.4 245.1,680.5 248.1,678.1 251.1,675.9 254.1,673.9 257.1,672.1 260.1,670.5 263.2,668.9 266.2,667.4 269.2,665.9 272.2,664.5 275.2,663.0 278.3,661.6 281.3,660.1 284.3,658.5 292.2,654.3 300.0,649.6 307.9,644.4 315.8,638.4 323.7,631.7 331.5,624.2 339.4,615.9 347.3,606.7 355.1,596.7 363.0,585.8 370.9,574.1 378.8,561.7 386.6,548.5 394.5,534.7 402.4,520.4 410.2,505.7 418.1,490.7 426.0,475.5 433.9,460.3 441.7,445.1 449.6,430.0 457.5,415.2 465.3,400.7 473.2,386.6 481.1,372.9 488.9,359.7 496.8,346.9 504.7,334.7 512.6,323.0 520.4,311.8 528.3,301.3 536.2,291.5 544.0,282.4 551.9,274.3 559.8,267.0 567.7,260.8 575.5,255.4 583.4,250.8 591.3,246.9 599.1,243.4 607.0,240.3 614.9,237.5 622.8,235.0 630.6,232.6 638.5,230.4 M236.0,706.7 239.0,702.6 242.0,699.2 245.1,696.3 248.1,693.8 251.1,691.6 254.1,689.6 257.1,687.7 260.1,686.0 263.2,684.4 266.2,682.8 269.2,681.3 272.2,679.8 275.2,678.3 278.3,676.8 281.3,675.3 284.3,673.7 292.2,669.3 300.0,664.5 307.9,659.0 315.8,652.9 323.7,645.9 331.5,638.2 339.4,629.6 347.3,620.1 355.1,609.7 363.0,598.4 370.9,586.3 378.8,573.4 386.6,559.7 394.5,545.5 402.4,530.7 410.2,515.4 418.1,499.9 426.0,484.2 433.9,468.4 441.7,452.7 449.6,437.1 457.5,421.8 465.3,406.8 473.2,392.1 481.1,377.9 488.9,364.2 496.8,351.0 504.7,338.4 512.6,326.3 520.4,314.7 528.3,303.8 536.2,293.6 544.0,284.2 551.9,275.8 559.8,268.3 567.7,261.9 575.5,256.3 583.4,251.6 591.3,247.5 599.1,243.9 607.0,240.7 614.9,237.8 622.8,235.1 630.6,232.7 638.5,230.4 M236.0,722.7 239.0,718.6 242.0,715.1 245.1,712.2 248.1,709.6 251.1,707.3 254.1,705.2 257.1,703.3 260.1,701.6 263.2,699.9 266.2,698.3 269.2,696.7 272.2,695.2 275.2,693.6 278.3,692.0 281.3,690.5 284.3,688.8 292.2,684.3 300.0,679.3 307.9,673.6 315.8,667.3 323.7,660.1 331.5,652.1 339.4,643.2 347.3,633.4 355.1,622.6 363.0,611.0 370.9,598.4 378.8,585.1 386.6,571.0 394.5,556.2 402.4,540.9 410.2,525.2 418.1,509.1 426.0,492.8 433.9,476.5 441.7,460.3 449.6,444.2 457.5,428.3 465.3,412.8 473.2,397.6 481.1,383.0 488.9,368.8 496.8,355.2 504.7,342.1 512.6,329.5 520.4,317.6 528.3,306.3 536.2,295.8 544.0,286.1 551.9,277.3 559.8,269.6 567.7,262.9 575.5,257.2 583.4,252.3 591.3,248.0 599.1,244.3 607.0,241.0 614.9,238.0 622.8,235.3 630.6,232.8 638.5,230.4 M236.0,738.8 239.0,734.6 242.0,731.0 245.1,728.0 248.1,725.3 251.1,723.0 254.1,720.9 257.1,718.9 260.1,717.1 263.2,715.4 266.2,713.7 269.2,712.1 272.2,710.5 275.2,708.9 278.3,707.3 281.3,705.7 284.3,704.0 292.2,699.3 300.0,694.1 307.9,688.3 315.8,681.7 323.7,674.3 331.5,666.1 339.4,656.8 347.3,646.7 355.1,635.6 363.0,623.5 370.9,610.6 378.8,596.8 386.6,582.3 394.5,567.0 402.4,551.2 410.2,534.9 418.1,518.3 426.0,501.5 433.9,484.7 441.7,467.9 449.6,451.2 457.5,434.8 465.3,418.8 473.2,403.2 481.1,388.0 488.9,373.4 496.8,359.3 504.7,345.8 512.6,332.8 520.4,320.5 528.3,308.8 536.2,297.9 544.0,287.9 551.9,278.9 559.8,270.9 567.7,264.0 575.5,258.1 583.4,253.0 591.3,248.6 599.1,244.8 607.0,241.4 614.9,238.3 622.8,235.5 630.6,232.9 638.5,230.4 M236.0,754.8 239.0,750.6 242.0,746.9 245.1,743.8 248.1,741.1 251.1,738.7 254.1,736.5 257.1,734.5 260.1,732.7 263.2,730.9 266.2,729.2 269.2,727.5 272.2,725.9 275.2,724.2 278.3,722.6 281.3,720.9 284.3,719.1 292.2,714.3 300.0,709.0 307.9,703.0 315.8,696.2 323.7,688.6 331.5,680.0 339.4,670.5 347.3,660.0 355.1,648.6 363.0,636.1 370.9,622.8 378.8,608.6 386.6,593.5 394.5,577.8 402.4,561.5 410.2,544.7 418.1,527.5 426.0,510.2 433.9,492.8 441.7,475.5 449.6,458.3 457.5,441.4 465.3,424.8 473.2,408.7 481.1,393.1 488.9,378.0 496.8,363.4 504.7,349.5 512.6,336.1 520.4,323.4 528.3,311.3 536.2,300.1 544.0,289.8 551.9,280.5 559.8,272.2 567.7,265.1 575.5,259.0 583.4,253.7 591.3,249.2 599.1,245.2 607.0,241.7 614.9,238.5 622.8,235.6 630.6,232.9 638.5,230.4 M236.0,786.9 239.0,782.5 242.0,778.7 245.1,775.5 248.1,772.7 251.1,770.2 254.1,767.9 257.1,765.8 260.1,763.8 263.2,761.9 266.2,760.1 269.2,758.4 272.2,756.6 275.2,754.9 278.3,753.1 281.3,751.3 284.3,749.5 292.2,744.4 300.0,738.7 307.9,732.3 315.8,725.1 323.7,717.0 331.5,707.9 339.4,697.8 347.3,686.7 355.1,674.5 363.0,661.3 370.9,647.2 378.8,632.0 386.6,616.1 394.5,599.4 402.4,582.0 410.2,564.2 418.1,546.0 426.0,527.6 433.9,509.1 441.7,490.7 449.6,472.5 457.5,454.5 465.3,436.9 473.2,419.8 481.1,403.2 488.9,387.1 496.8,371.7 504.7,356.8 512.6,342.7 520.4,329.1 528.3,316.4 536.2,304.4 544.0,293.4 551.9,283.6 559.8,274.8 567.7,267.2 575.5,260.7 583.4,255.2 591.3,250.4 599.1,246.2 607.0,242.4 614.9,239.0 622.8,235.9 630.6,233.1 638.5,230.4 M236.0,803.0 239.0,798.5 242.0,794.7 245.1,791.4 248.1,788.5 251.1,785.9 254.1,783.6 257.1,781.4 260.1,779.4 263.2,777.5 266.2,775.6 269.2,773.8 272.2,772.0 275.2,770.2 278.3,768.4 281.3,766.6 284.3,764.7 292.2,759.4 300.0,753.6 307.9,747.0 315.8,739.6 323.7,731.2 331.5,721.9 339.4,711.5 347.3,700.1 355.1,687.5 363.0,673.9 370.9,659.4 378.8,643.8 386.6,627.4 394.5,610.2 402.4,592.3 410.2,573.9 418.1,555.2 426.0,536.3 433.9,517.3 441.7,498.3 449.6,479.5 457.5,461.1 465.3,443.0 473.2,425.3 481.1,408.2 488.9,391.7 496.8,375.8 504.7,360.5 512.6,345.9 520.4,332.0 528.3,318.9 536.2,306.6 544.0,295.3 551.9,285.1 559.8,276.1 567.7,268.3 575.5,261.6 583.4,255.9 591.3,250.9 599.1,246.6 607.0,242.8 614.9,239.3 622.8,236.1 630.6,233.2 638.5,230.4 M236.0,963.5 239.0,958.3 242.0,953.8 245.1,950.0 248.1,946.5 251.1,943.4 254.1,940.6 257.1,937.9 260.1,935.4 263.2,933.0 266.2,930.7 269.2,928.4 272.2,926.1 275.2,923.9 278.3,921.5 281.3,919.2 284.3,916.7 292.2,910.0 300.0,902.5 307.9,894.1 315.8,884.6 323.7,873.8 331.5,861.8 339.4,848.5 347.3,833.8 355.1,817.7 363.0,800.2 370.9,781.5 378.8,761.5 386.6,740.4 394.5,718.3 402.4,695.3 410.2,671.7 418.1,647.7 426.0,623.3 433.9,598.9 441.7,574.6 449.6,550.5 457.5,526.7 465.3,503.5 473.2,480.8 481.1,458.8 488.9,437.6 496.8,417.2 504.7,397.6 512.6,378.8 520.4,360.9 528.3,344.0 536.2,328.2 544.0,313.7 551.9,300.7 559.8,289.1 567.7,279.1 575.5,270.5 583.4,263.1 591.3,256.8 599.1,251.2 607.0,246.3 614.9,241.8 622.8,237.7 630.6,233.9 638.5,230.4 M236.0,979.5 239.0,974.3 242.0,969.8 245.1,965.8 248.1,962.3 251.1,959.2 254.1,956.3 257.1,953.6 260.1,951.0 263.2,948.6 266.2,946.2 269.2,943.9 272.2,941.6 275.2,939.2 278.3,936.9 281.3,934.4 284.3,932.0 292.2,925.1 300.0,917.4 307.9,908.8 315.8,899.1 323.7,888.1 331.5,875.8 339.4,862.2 347.3,847.1 355.1,830.7 363.0,812.9 370.9,793.7 378.8,773.3 386.6,751.7 394.5,729.1 402.4,705.6 410.2,681.5 418.1,656.9 426.0,632.1 433.9,607.1 441.7,582.2 449.6,557.6 457.5,533.3 465.3,509.5 473.2,486.4 481.1,463.9 488.9,442.2 496.8,421.3 504.7,401.3 512.6,382.1 520.4,363.8 528.3,346.6 536.2,330.4 544.0,315.6 551.9,302.2 559.8,290.4 567.7,280.2 575.5,271.4 583.4,263.9 591.3,257.4 599.1,251.7 607.0,246.6 614.9,242.0 622.8,237.9 630.6,234.0 638.5,230.4" fill="none" stroke="#5cb591" stroke-width="1.5" stroke-linejoin="round"/>
<path d="M236.0,126.4 239.0,128.0 242.0,129.9 245.1,132.0 248.1,134.3 251.1,136.8 254.1,139.4 257.1,142.1 260.1,144.8 263.2,147.7 266.2,150.6 269.2,153.6 272.2,156.6 275.2,159.7 278.3,162.8 281.3,165.8 284.3,168.9 292.2,176.9 300.0,184.8 307.9,192.3 315.8,199.5 323.7,206.3 331.5,212.5 339.4,218.2 347.3,223.4 355.1,227.9 363.0,232.0 370.9,235.4 378.8,238.4 386.6,240.9 394.5,243.0 402.4,244.6 410.2,246.0 418.1,247.0 426.0,247.9 433.9,248.7 441.7,249.4 449.6,250.3 457.5,251.4 465.3,252.7 473.2,254.4 481.1,256.5 488.9,259.0 496.8,262.1 504.7,265.6 512.6,269.7 520.4,274.3 528.3,279.5 536.2,285.1 544.0,291.3 551.9,297.8 559.8,304.7 567.7,311.8 575.5,319.2 583.4,326.6 591.3,334.1 599.1,341.4 607.0,348.5 614.9,355.1 622.8,361.2 630.6,366.6 638.5,371.0 M236.0,158.5 239.0,159.9 242.0,161.5 245.1,163.3 248.1,165.3 251.1,167.4 254.1,169.6 257.1,172.0 260.1,174.4 263.2,176.9 266.2,179.4 269.2,182.0 272.2,184.6 275.2,187.3 278.3,190.0 281.3,192.7 284.3,195.3 292.2,202.3 300.0,209.1 307.9,215.7 315.8,221.9 323.7,227.8 331.5,233.2 339.4,238.2 347.3,242.6 355.1,246.6 363.0,250.1 370.9,253.2 378.8,255.8 386.6,257.9 394.5,259.7 402.4,261.1 410.2,262.3 418.1,263.2 426.0,264.0 433.9,264.7 441.7,265.3 449.6,266.1 457.5,267.0 465.3,268.2 473.2,269.6 481.1,271.4 488.9,273.6 496.8,276.3 504.7,279.4 512.6,283.0 520.4,287.0 528.3,291.5 536.2,296.4 544.0,301.7 551.9,307.4 559.8,313.3 567.7,319.6 575.5,326.0 583.4,332.4 591.3,338.9 599.1,345.3 607.0,351.4 614.9,357.2 622.8,362.5 630.6,367.2 638.5,371.0 M236.0,174.5 239.0,175.8 242.0,177.3 245.1,178.9 248.1,180.8 251.1,182.7 254.1,184.8 257.1,187.0 260.1,189.2 263.2,191.5 266.2,193.8 269.2,196.2 272.2,198.7 275.2,201.1 278.3,203.6 281.3,206.1 284.3,208.5 292.2,215.0 300.0,221.3 307.9,227.4 315.8,233.1 323.7,238.6 331.5,243.6 339.4,248.2 347.3,252.3 355.1,256.0 363.0,259.2 370.9,262.0 378.8,264.4 386.6,266.4 394.5,268.1 402.4,269.4 410.2,270.5 418.1,271.3 426.0,272.0 433.9,272.7 441.7,273.3 449.6,274.0 457.5,274.8 465.3,275.9 473.2,277.2 481.1,278.9 488.9,281.0 496.8,283.4 504.7,286.3 512.6,289.6 520.4,293.3 528.3,297.4 536.2,302.0 544.0,306.9 551.9,312.1 559.8,317.7 567.7,323.4 575.5,329.4 583.4,335.3 591.3,341.3 599.1,347.2 607.0,352.9 614.9,358.3 622.8,363.2 630.6,367.5 638.5,371.0 M236.0,238.6 239.0,239.4 242.0,240.4 245.1,241.5 248.1,242.7 251.1,244.0 254.1,245.4 257.1,246.9 260.1,248.4 263.2,249.9 266.2,251.5 269.2,253.1 272.2,254.8 275.2,256.4 278.3,258.1 281.3,259.8 284.3,261.4 292.2,265.8 300.0,270.0 307.9,274.1 315.8,278.0 323.7,281.7 331.5,285.1 339.4,288.2 347.3,290.9 355.1,293.4 363.0,295.6 370.9,297.5 378.8,299.1 386.6,300.5 394.5,301.6 402.4,302.5 410.2,303.2 418.1,303.8 426.0,304.3 433.9,304.7 441.7,305.1 449.6,305.6 457.5,306.1 465.3,306.9 473.2,307.8 481.1,308.9 488.9,310.3 496.8,311.9 504.7,313.9 512.6,316.1 520.4,318.6 528.3,321.4 536.2,324.5 544.0,327.8 551.9,331.3 559.8,335.0 567.7,338.9 575.5,342.9 583.4,347.0 591.3,351.0 599.1,355.0 607.0,358.8 614.9,362.4 622.8,365.7 630.6,368.6 638.5,371.0 M236.0,320.3 239.0,320.5 242.0,320.9 245.1,321.3 248.1,321.7 251.1,322.2 254.1,322.8 257.1,323.3 260.1,323.9 263.2,324.5 266.2,325.1 269.2,325.7 272.2,326.3 275.2,327.0 278.3,327.6 281.3,328.3 284.3,328.9 292.2,330.6 300.0,332.2 307.9,333.8 315.8,335.3 323.7,336.7 331.5,338.0 339.4,339.2 347.3,340.2 355.1,341.2 363.0,342.0 370.9,342.8 378.8,343.4 386.6,343.9 394.5,344.3 402.4,344.7 410.2,345.0 418.1,345.2 426.0,345.4 433.9,345.5 441.7,345.7 449.6,345.9 457.5,346.1 465.3,346.4 473.2,346.7 481.1,347.1 488.9,347.7 496.8,348.3 504.7,349.1 512.6,349.9 520.4,350.9 528.3,352.0 536.2,353.1 544.0,354.4 551.9,355.8 559.8,357.2 567.7,358.7 575.5,360.2 583.4,361.8 591.3,363.3 599.1,364.9 607.0,366.3 614.9,367.7 622.8,369.0 630.6,370.1 638.5,371.0 M236.0,402.2 239.0,402.0 242.0,401.8 245.1,401.6 248.1,401.5 251.1,401.4 254.1,401.2 257.1,401.1 260.1,401.0 263.2,400.9 266.2,400.8 269.2,400.7 272.2,400.6 275.2,400.5 278.3,400.4 281.3,400.3 284.3,400.2 292.2,399.9 300.0,399.6 307.9,399.3 315.8,398.9 323.7,398.4 331.5,397.9 339.4,397.3 347.3,396.7 355.1,396.0 363.0,395.3 370.9,394.5 378.8,393.6 386.6,392.7 394.5,391.8 402.4,390.8 410.2,389.8 418.1,388.8 426.0,387.7 433.9,386.7 441.7,385.7 449.6,384.6 457.5,383.6 465.3,382.7 473.2,381.7 481.1,380.8 488.9,379.9 496.8,379.1 504.7,378.3 512.6,377.5 520.4,376.9 528.3,376.3 536.2,375.7 544.0,375.2 551.9,374.7 559.8,374.2 567.7,373.8 575.5,373.3 583.4,372.9 591.3,372.5 599.1,372.2 607.0,371.9 614.9,371.6 622.8,371.4 630.6,371.2 638.5,371.0 M236.0,450.3 239.0,449.6 242.0,449.0 245.1,448.5 248.1,448.1 251.1,447.7 254.1,447.3 257.1,447.0 260.1,446.7 263.2,446.5 266.2,446.2 269.2,446.0 272.2,445.7 275.2,445.5 278.3,445.2 281.3,445.0 284.3,444.7 292.2,444.0 300.0,443.2 307.9,442.3 315.8,441.2 323.7,440.1 331.5,438.8 339.4,437.4 347.3,435.8 355.1,434.1 363.0,432.2 370.9,430.2 378.8,428.0 386.6,425.8 394.5,423.4 402.4,420.9 410.2,418.4 418.1,415.8 426.0,413.2 433.9,410.6 441.7,408.0 449.6,405.4 457.5,402.8 465.3,400.3 473.2,397.9 481.1,395.6 488.9,393.4 496.8,391.3 504.7,389.3 512.6,387.5 520.4,385.8 528.3,384.3 536.2,382.9 544.0,381.6 551.9,380.3 559.8,379.1 567.7,377.9 575.5,376.8 583.4,375.7 591.3,374.8 599.1,373.9 607.0,373.1 614.9,372.5 622.8,372.0 630.6,371.5 638.5,371.1 M236.0,835.1 239.0,831.1 242.0,827.8 245.1,824.9 248.1,822.4 251.1,820.2 254.1,818.3 257.1,816.5 260.1,814.8 263.2,813.2 266.2,811.7 269.2,810.2 272.2,808.7 275.2,807.3 278.3,805.8 281.3,804.3 284.3,802.8 292.2,798.5 300.0,793.8 307.9,788.5 315.8,782.5 323.7,775.7 331.5,768.2 339.4,759.8 347.3,750.5 355.1,740.4 363.0,729.4 370.9,717.6 378.8,705.1 386.6,691.8 394.5,677.9 402.4,663.5 410.2,648.6 418.1,633.5 426.0,618.2 433.9,602.8 441.7,587.5 449.6,572.3 457.5,557.4 465.3,542.9 473.2,528.7 481.1,515.2 488.9,502.3 496.8,490.3 504.7,479.2 512.6,469.2 520.4,460.1 528.3,451.9 536.2,444.2 544.0,436.9 551.9,429.6 559.8,422.3 567.7,414.8 575.5,407.4 583.4,400.4 591.3,394.1 599.1,388.5 607.0,383.7 614.9,379.8 622.8,376.5 630.6,373.6 638.5,371.2 M236.0,867.2 239.0,863.0 242.0,859.6 245.1,856.6 248.1,854.0 251.1,851.6 254.1,849.6 257.1,847.7 260.1,845.9 263.2,844.2 266.2,842.6 269.2,841.0 272.2,839.4 275.2,837.9 278.3,836.3 281.3,834.7 284.3,833.1 292.2,828.5 300.0,823.4 307.9,817.8 315.8,811.3 323.7,804.1 331.5,796.1 339.4,787.1 347.3,777.2 355.1,766.3 363.0,754.6 370.9,742.0 378.8,728.5 386.6,714.3 394.5,699.4 402.4,684.0 410.2,668.1 418.1,651.9 426.0,635.5 433.9,619.1 441.7,602.7 449.6,586.5 457.5,570.5 465.3,554.9 473.2,539.8 481.1,525.3 488.9,511.5 496.8,498.7 504.7,486.8 512.6,476.0 520.4,466.3 528.3,457.5 536.2,449.4 544.0,441.5 551.9,433.8 559.8,425.8 567.7,417.9 575.5,410.0 583.4,402.5 591.3,395.7 599.1,389.7 607.0,384.6 614.9,380.4 622.8,376.8 630.6,373.8 638.5,371.2" fill="none" stroke="#ba7eb4" stroke-width="1.5" stroke-linejoin="round"/>
<path d="M236.0,610.4 239.0,609.5 242.0,608.8 245.1,608.2 248.1,607.7 251.1,607.2 254.1,606.8 257.1,606.4 260.1,606.0 263.2,605.7 266.2,605.4 269.2,605.1 272.2,604.8 275.2,604.5 278.3,604.2 281.3,603.9 284.3,603.5 292.2,602.7 300.0,601.7 307.9,600.6 315.8,599.4 323.7,598.0 331.5,596.4 339.4,594.7 347.3,592.8 355.1,590.7 363.0,588.4 370.9,586.0 378.8,583.4 386.6,580.7 394.5,577.8 402.4,574.8 410.2,571.8 418.1,568.7 426.0,565.5 433.9,562.4 441.7,559.2 449.6,556.1 457.5,553.0 465.3,550.1 473.2,547.2 481.1,544.5 488.9,542.0 496.8,539.6 504.7,537.5 512.6,535.6 520.4,533.9 528.3,532.3 536.2,530.9 544.0,529.5 551.9,528.1 559.8,526.7 567.7,525.2 575.5,523.7 583.4,522.2 591.3,520.7 599.1,519.4 607.0,518.2 614.9,517.1 622.8,516.2 630.6,515.5 638.5,514.8" fill="none" stroke="#ec9092" stroke-width="1.5" stroke-linejoin="round"/>
<path d="M236.0,222.6 239.0,226.3 242.0,230.1 245.1,234.2 248.1,238.4 251.1,242.7 254.1,247.2 257.1,251.7 260.1,256.3 263.2,261.0 266.2,265.7 269.2,270.4 272.2,275.2 275.2,280.0 278.3,284.8 281.3,289.7 284.3,294.5 292.2,307.0 300.0,319.4 307.9,331.4 315.8,343.0 323.7,354.0 331.5,364.4 339.4,374.1 347.3,383.1 355.1,391.2 363.0,398.6 370.9,405.2 378.8,410.9 386.6,415.9 394.5,420.3 402.4,423.9 410.2,427.0 418.1,429.7 426.0,432.1 433.9,434.2 441.7,436.3 449.6,438.5 457.5,441.0 465.3,443.9 473.2,447.4 481.1,451.5 488.9,456.3 496.8,461.9 504.7,468.3 512.6,475.6 520.4,483.8 528.3,492.8 536.2,502.6 544.0,513.2 551.9,524.4 559.8,536.2 567.7,548.5 575.5,561.2 583.4,574.0 591.3,586.8 599.1,599.5 607.0,611.8 614.9,623.5 622.8,634.3 630.6,643.9 638.5,652.2 M236.0,546.4 239.0,547.0 242.0,547.7 245.1,548.6 248.1,549.6 251.1,550.6 254.1,551.7 257.1,552.9 260.1,554.1 263.2,555.3 266.2,556.6 269.2,557.9 272.2,559.2 275.2,560.5 278.3,561.8 281.3,563.2 284.3,564.5 292.2,568.0 300.0,571.4 307.9,574.7 315.8,577.8 323.7,580.7 331.5,583.4 339.4,585.9 347.3,588.1 355.1,590.1 363.0,591.8 370.9,593.4 378.8,594.6 386.6,595.7 394.5,596.6 402.4,597.3 410.2,597.9 418.1,598.4 426.0,598.8 433.9,599.1 441.7,599.4 449.6,599.8 457.5,600.3 465.3,600.8 473.2,601.6 481.1,602.5 488.9,603.6 496.8,604.9 504.7,606.4 512.6,608.2 520.4,610.2 528.3,612.5 536.2,614.9 544.0,617.6 551.9,620.4 559.8,623.4 567.7,626.5 575.5,629.7 583.4,632.9 591.3,636.2 599.1,639.3 607.0,642.4 614.9,645.3 622.8,647.9 630.6,650.2 638.5,652.2 M236.0,578.4 239.0,578.8 242.0,579.3 245.1,579.9 248.1,580.6 251.1,581.3 254.1,582.0 257.1,582.9 260.1,583.7 263.2,584.5 266.2,585.4 269.2,586.3 272.2,587.2 275.2,588.2 278.3,589.1 281.3,590.0 284.3,591.0 292.2,593.4 300.0,595.8 307.9,598.1 315.8,600.2 323.7,602.3 331.5,604.2 339.4,605.9 347.3,607.5 355.1,608.8 363.0,610.1 370.9,611.1 378.8,612.0 386.6,612.8 394.5,613.4 402.4,613.9 410.2,614.3 418.1,614.6 426.0,614.9 433.9,615.1 441.7,615.4 449.6,615.6 457.5,615.9 465.3,616.3 473.2,616.8 481.1,617.5 488.9,618.2 496.8,619.2 504.7,620.3 512.6,621.5 520.4,622.9 528.3,624.5 536.2,626.2 544.0,628.0 551.9,630.0 559.8,632.1 567.7,634.2 575.5,636.5 583.4,638.7 591.3,641.0 599.1,643.2 607.0,645.3 614.9,647.4 622.8,649.2 630.6,650.8 638.5,652.2 M236.0,642.5 239.0,642.5 242.0,642.6 245.1,642.7 248.1,642.7 251.1,642.8 254.1,642.9 257.1,643.0 260.1,643.1 263.2,643.3 266.2,643.4 269.2,643.5 272.2,643.6 275.2,643.7 278.3,643.9 281.3,644.0 284.3,644.1 292.2,644.4 300.0,644.7 307.9,645.0 315.8,645.3 323.7,645.6 331.5,645.8 339.4,646.1 347.3,646.3 355.1,646.5 363.0,646.6 370.9,646.8 378.8,646.9 386.6,647.0 394.5,647.1 402.4,647.1 410.2,647.2 418.1,647.2 426.0,647.3 433.9,647.3 441.7,647.3 449.6,647.4 457.5,647.4 465.3,647.5 473.2,647.5 481.1,647.6 488.9,647.7 496.8,647.8 504.7,648.0 512.6,648.1 520.4,648.3 528.3,648.5 536.2,648.7 544.0,649.0 551.9,649.3 559.8,649.5 567.7,649.8 575.5,650.1 583.4,650.4 591.3,650.7 599.1,651.0 607.0,651.3 614.9,651.5 622.8,651.8 630.6,652.0 638.5,652.2 M236.0,915.3 239.0,912.7 242.0,910.6 245.1,908.8 248.1,907.3 251.1,905.9 254.1,904.7 257.1,903.6 260.1,902.6 263.2,901.7 266.2,900.8 269.2,900.0 272.2,899.1 275.2,898.3 278.3,897.4 281.3,896.6 284.3,895.7 292.2,893.3 300.0,890.6 307.9,887.6 315.8,884.2 323.7,880.4 331.5,876.2 339.4,871.4 347.3,866.2 355.1,860.5 363.0,854.3 370.9,847.7 378.8,840.6 386.6,833.1 394.5,825.2 402.4,817.1 410.2,808.7 418.1,800.2 426.0,791.6 433.9,782.9 441.7,774.3 449.6,765.7 457.5,757.3 465.3,749.1 473.2,741.1 481.1,733.4 488.9,726.0 496.8,719.0 504.7,712.5 512.6,706.5 520.4,700.9 528.3,695.9 536.2,691.3 544.0,687.0 551.9,682.9 559.8,678.9 567.7,675.0 575.5,671.3 583.4,667.7 591.3,664.5 599.1,661.6 607.0,659.1 614.9,657.0 622.8,655.2 630.6,653.6 638.5,652.3 M236.0,947.4 239.0,944.6 242.0,942.2 245.1,940.2 248.1,938.5 251.1,937.0 254.1,935.7 257.1,934.4 260.1,933.3 263.2,932.3 266.2,931.3 269.2,930.3 272.2,929.4 275.2,928.5 278.3,927.5 281.3,926.6 284.3,925.6 292.2,922.9 300.0,919.9 307.9,916.5 315.8,912.7 323.7,908.4 331.5,903.7 339.4,898.4 347.3,892.5 355.1,886.1 363.0,879.1 370.9,871.7 378.8,863.7 386.6,855.3 394.5,846.5 402.4,837.3 410.2,827.9 418.1,818.4 426.0,808.7 433.9,798.9 441.7,789.2 449.6,779.6 457.5,770.2 465.3,760.9 473.2,752.0 481.1,743.3 488.9,735.0 496.8,727.2 504.7,719.9 512.6,713.1 520.4,706.9 528.3,701.3 536.2,696.1 544.0,691.2 551.9,686.6 559.8,682.2 567.7,677.8 575.5,673.6 583.4,669.6 591.3,666.0 599.1,662.8 607.0,660.0 614.9,657.6 622.8,655.6 630.6,653.8 638.5,652.3 M236.0,994.6 239.0,991.4 242.0,988.7 245.1,986.4 248.1,984.5 251.1,982.8 254.1,981.2 257.1,979.9 260.1,978.6 263.2,977.4 266.2,976.2 269.2,975.1 272.2,974.0 275.2,973.0 278.3,971.9 281.3,970.7 284.3,969.6 292.2,966.5 300.0,963.0 307.9,959.1 315.8,954.7 323.7,949.7 331.5,944.2 339.4,938.0 347.3,931.2 355.1,923.8 363.0,915.7 370.9,907.0 378.8,897.8 386.6,888.0 394.5,877.8 402.4,867.2 410.2,856.3 418.1,845.1 426.0,833.9 433.9,822.6 441.7,811.3 449.6,800.2 457.5,789.2 465.3,778.5 473.2,768.0 481.1,758.0 488.9,748.4 496.8,739.3 504.7,730.8 512.6,722.9 520.4,715.7 528.3,709.2 536.2,703.1 544.0,697.5 551.9,692.2 559.8,687.0 567.7,681.9 575.5,677.1 583.4,672.5 591.3,668.2 599.1,664.5 607.0,661.2 614.9,658.5 622.8,656.1 630.6,654.1 638.5,652.3" fill="none" stroke="#e6c955" stroke-width="1.5" stroke-linejoin="round"/>
<path d="M236.0,674.6 239.0,675.3 242.0,676.1 245.1,677.1 248.1,678.2 251.1,679.3 254.1,680.6 257.1,681.9 260.1,683.2 263.2,684.6 266.2,686.0 269.2,687.5 272.2,688.9 275.2,690.4 278.3,691.9 281.3,693.4 284.3,694.9 292.2,698.7 300.0,702.5 307.9,706.2 315.8,709.7 323.7,713.0 331.5,716.0 339.4,718.7 347.3,721.2 355.1,723.4 363.0,725.4 370.9,727.1 378.8,728.5 386.6,729.7 394.5,730.7 402.4,731.5 410.2,732.2 418.1,732.7 426.0,733.1 433.9,733.5 441.7,733.9 449.6,734.3 457.5,734.8 465.3,735.4 473.2,736.2 481.1,737.3 488.9,738.5 496.8,740.0 504.7,741.7 512.6,743.7 520.4,745.9 528.3,748.4 536.2,751.2 544.0,754.1 551.9,757.3 559.8,760.6 567.7,764.1 575.5,767.6 583.4,771.2 591.3,774.9 599.1,778.4 607.0,781.8 614.9,785.0 622.8,788.0 630.6,790.6 638.5,792.7 M236.0,770.9 239.0,771.0 242.0,771.1 245.1,771.3 248.1,771.5 251.1,771.7 254.1,771.9 257.1,772.2 260.1,772.4 263.2,772.7 266.2,772.9 269.2,773.2 272.2,773.5 275.2,773.7 278.3,774.0 281.3,774.3 284.3,774.6 292.2,775.3 300.0,776.0 307.9,776.7 315.8,777.3 323.7,777.9 331.5,778.5 339.4,779.0 347.3,779.5 355.1,779.9 363.0,780.2 370.9,780.5 378.8,780.8 386.6,781.0 394.5,781.2 402.4,781.4 410.2,781.5 418.1,781.6 426.0,781.7 433.9,781.7 441.7,781.8 449.6,781.9 457.5,782.0 465.3,782.1 473.2,782.3 481.1,782.4 488.9,782.7 496.8,782.9 504.7,783.3 512.6,783.6 520.4,784.0 528.3,784.5 536.2,785.0 544.0,785.6 551.9,786.2 559.8,786.8 567.7,787.4 575.5,788.1 583.4,788.8 591.3,789.4 599.1,790.1 607.0,790.7 614.9,791.3 622.8,791.9 630.6,792.3 638.5,792.7 M236.0,851.1 239.0,850.6 242.0,850.2 245.1,849.9 248.1,849.6 251.1,849.3 254.1,849.1 257.1,848.9 260.1,848.7 263.2,848.5 266.2,848.3 269.2,848.1 272.2,847.9 275.2,847.7 278.3,847.5 281.3,847.3 284.3,847.1 292.2,846.6 300.0,846.0 307.9,845.3 315.8,844.6 323.7,843.7 331.5,842.8 339.4,841.7 347.3,840.6 355.1,839.3 363.0,837.9 370.9,836.4 378.8,834.8 386.6,833.2 394.5,831.4 402.4,829.6 410.2,827.7 418.1,825.8 426.0,823.9 433.9,822.0 441.7,820.0 449.6,818.1 457.5,816.2 465.3,814.4 473.2,812.6 481.1,810.9 488.9,809.2 496.8,807.7 504.7,806.2 512.6,804.9 520.4,803.6 528.3,802.5 536.2,801.5 544.0,800.5 551.9,799.6 559.8,798.7 567.7,797.8 575.5,797.0 583.4,796.2 591.3,795.5 599.1,794.9 607.0,794.3 614.9,793.8 622.8,793.4 630.6,793.1 638.5,792.8 M236.0,883.2 239.0,882.4 242.0,881.7 245.1,881.2 248.1,880.7 251.1,880.2 254.1,879.8 257.1,879.5 260.1,879.1 263.2,878.8 266.2,878.5 269.2,878.2 272.2,877.9 275.2,877.7 278.3,877.4 281.3,877.1 284.3,876.8 292.2,875.9 300.0,875.0 307.9,874.0 315.8,872.8 323.7,871.5 331.5,870.0 339.4,868.4 347.3,866.6 355.1,864.6 363.0,862.5 370.9,860.2 378.8,857.8 386.6,855.2 394.5,852.5 402.4,849.7 410.2,846.8 418.1,843.8 426.0,840.8 433.9,837.9 441.7,834.9 449.6,831.9 457.5,829.0 465.3,826.2 473.2,823.4 481.1,820.8 488.9,818.2 496.8,815.8 504.7,813.6 512.6,811.5 520.4,809.6 528.3,807.8 536.2,806.2 544.0,804.7 551.9,803.3 559.8,802.0 567.7,800.6 575.5,799.3 583.4,798.1 591.3,797.0 599.1,796.0 607.0,795.1 614.9,794.4 622.8,793.8 630.6,793.3 638.5,792.8 M236.0,899.3 239.0,898.3 242.0,897.5 245.1,896.8 248.1,896.2 251.1,895.6 254.1,895.2 257.1,894.7 260.1,894.3 263.2,894.0 266.2,893.6 269.2,893.3 272.2,892.9 275.2,892.6 278.3,892.3 281.3,891.9 284.3,891.6 292.2,890.6 300.0,889.5 307.9,888.3 315.8,886.9 323.7,885.4 331.5,883.6 339.4,881.7 347.3,879.6 355.1,877.3 363.0,874.8 370.9,872.1 378.8,869.2 386.6,866.2 394.5,863.0 402.4,859.7 410.2,856.3 418.1,852.8 426.0,849.3 433.9,845.8 441.7,842.3 449.6,838.8 457.5,835.4 465.3,832.1 473.2,828.8 481.1,825.7 488.9,822.7 496.8,819.9 504.7,817.2 512.6,814.8 520.4,812.5 528.3,810.5 536.2,808.6 544.0,806.9 551.9,805.2 559.8,803.6 567.7,802.0 575.5,800.5 583.4,799.1 591.3,797.7 599.1,796.6 607.0,795.6 614.9,794.7 622.8,794.0 630.6,793.3 638.5,792.8 M236.0,931.4 239.0,930.0 242.0,928.9 245.1,928.0 248.1,927.2 251.1,926.5 254.1,925.9 257.1,925.3 260.1,924.8 263.2,924.3 266.2,923.8 269.2,923.4 272.2,922.9 275.2,922.5 278.3,922.0 281.3,921.6 284.3,921.1 292.2,919.9 300.0,918.5 307.9,916.9 315.8,915.1 323.7,913.1 331.5,910.8 339.4,908.3 347.3,905.6 355.1,902.6 363.0,899.3 370.9,895.8 378.8,892.1 386.6,888.1 394.5,884.0 402.4,879.7 410.2,875.3 418.1,870.8 426.0,866.2 433.9,861.7 441.7,857.1 449.6,852.6 457.5,848.2 465.3,843.8 473.2,839.6 481.1,835.5 488.9,831.7 496.8,828.0 504.7,824.5 512.6,821.4 520.4,818.5 528.3,815.8 536.2,813.4 544.0,811.1 551.9,808.9 559.8,806.8 567.7,804.8 575.5,802.8 583.4,800.9 591.3,799.2 599.1,797.7 607.0,796.4 614.9,795.3 622.8,794.3 630.6,793.5 638.5,792.8" fill="none" stroke="#bfd446" stroke-width="1.5" stroke-linejoin="round"/>
<path d="M236.0,819.0 239.0,819.7 242.0,820.5 245.0,821.4 248.0,822.5 251.0,823.6 254.0,824.8 257.0,826.0 260.0,827.3 263.0,828.6 266.0,829.9 269.0,831.3 272.0,832.7 275.0,834.1 277.9,835.6 280.9,837.0 283.9,838.4 291.8,842.1 299.6,845.8 307.4,849.3 315.2,852.6 323.0,855.7 330.8,858.6 338.6,861.2 346.4,863.6 354.3,865.7 362.1,867.6 369.9,869.2 377.7,870.6 385.5,871.8 393.3,872.7 401.1,873.5 408.9,874.1 416.8,874.6 424.6,875.0 432.4,875.3 440.2,875.7 448.0,876.1 455.8,876.6 463.6,877.2 471.4,878.0 479.3,879.0 487.1,880.1 494.9,881.5 502.7,883.2 510.5,885.1 518.3,887.2 526.1,889.6 533.9,892.2 541.8,895.1 549.6,898.1 557.4,901.3 565.2,904.6 573.0,908.0 580.8,911.5 588.6,914.9 596.4,918.3 604.3,921.6 612.1,924.7 619.9,927.5 627.7,930.0 635.5,932.0" fill="none" stroke="#48a6bd" stroke-width="1.5" stroke-linejoin="round"/>
<g transform="translate(0,91.90)"><path d="M677.3,-21 Q677.3,-24.8 681.1,-24.8 L694.5,-24.8 Q697.2,-24.8 698.5,-27.3 A45,45 0 1 1 697.7,27.0 Q696.2,24.8 693.2,24.8 L681.1,24.8 Q677.3,24.8 677.3,21 Z" fill="#176a9c"/><rect x="666" y="-21.5" width="6.6" height="43" rx="3" fill="#2f7dae"/><rect x="654.9" y="-21.5" width="6.5" height="43" rx="3" fill="#2f7dae"/><path d="M648.2,-21.5 Q650.4,-21.5 650.4,-19.3 L650.4,19.3 Q650.4,21.5 648.2,21.5 Q646,21.5 646,19.3 L646,15.5 L638.6,4.2 Q638,3.4 638,2.4 L638,-3.4 Q638,-4.4 638.6,-5.2 L646,-15.5 L646,-19.3 Q646,-21.5 648.2,-21.5Z" fill="#2f7dae"/><text x="731" y="6.5">北美洲</text></g>
<g transform="translate(0,232.47)"><path d="M677.3,-21 Q677.3,-24.8 681.1,-24.8 L694.5,-24.8 Q697.2,-24.8 698.5,-27.3 A45,45 0 1 1 697.7,27.0 Q696.2,24.8 693.2,24.8 L681.1,24.8 Q677.3,24.8 677.3,21 Z" fill="#62bf9a"/><rect x="666" y="-21.5" width="6.6" height="43" rx="3" fill="#6fc4a2"/><rect x="654.9" y="-21.5" width="6.5" height="43" rx="3" fill="#6fc4a2"/><path d="M648.2,-21.5 Q650.4,-21.5 650.4,-19.3 L650.4,19.3 Q650.4,21.5 648.2,21.5 Q646,21.5 646,19.3 L646,15.5 L638.6,4.2 Q638,3.4 638,2.4 L638,-3.4 Q638,-4.4 638.6,-5.2 L646,-15.5 L646,-19.3 Q646,-21.5 648.2,-21.5Z" fill="#6fc4a2"/><text x="731" y="6.5">欧洲和中亚</text></g>
<g transform="translate(0,373.04)"><path d="M677.3,-21 Q677.3,-24.8 681.1,-24.8 L694.5,-24.8 Q697.2,-24.8 698.5,-27.3 A45,45 0 1 1 697.7,27.0 Q696.2,24.8 693.2,24.8 L681.1,24.8 Q677.3,24.8 677.3,21 Z" fill="#bf7bb8"/><rect x="666" y="-21.5" width="6.6" height="43" rx="3" fill="#c98fc4"/><rect x="654.9" y="-21.5" width="6.5" height="43" rx="3" fill="#c98fc4"/><path d="M648.2,-21.5 Q650.4,-21.5 650.4,-19.3 L650.4,19.3 Q650.4,21.5 648.2,21.5 Q646,21.5 646,19.3 L646,15.5 L638.6,4.2 Q638,3.4 638,2.4 L638,-3.4 Q638,-4.4 638.6,-5.2 L646,-15.5 L646,-19.3 Q646,-21.5 648.2,-21.5Z" fill="#c98fc4"/><text x="731" y="6.5">东亚、太平洋</text></g>
<g transform="translate(0,513.61)"><path d="M677.3,-21 Q677.3,-24.8 681.1,-24.8 L694.5,-24.8 Q697.2,-24.8 698.5,-27.3 A45,45 0 1 1 697.7,27.0 Q696.2,24.8 693.2,24.8 L681.1,24.8 Q677.3,24.8 677.3,21 Z" fill="#ee9294"/><rect x="666" y="-21.5" width="6.6" height="43" rx="3" fill="#ef9799"/><rect x="654.9" y="-21.5" width="6.5" height="43" rx="3" fill="#ef9799"/><path d="M648.2,-21.5 Q650.4,-21.5 650.4,-19.3 L650.4,19.3 Q650.4,21.5 648.2,21.5 Q646,21.5 646,19.3 L646,15.5 L638.6,4.2 Q638,3.4 638,2.4 L638,-3.4 Q638,-4.4 638.6,-5.2 L646,-15.5 L646,-19.3 Q646,-21.5 648.2,-21.5Z" fill="#ef9799"/><text x="731" y="6.5">南亚</text></g>
<g transform="translate(0,654.18)"><path d="M677.3,-21 Q677.3,-24.8 681.1,-24.8 L694.5,-24.8 Q697.2,-24.8 698.5,-27.3 A45,45 0 1 1 697.7,27.0 Q696.2,24.8 693.2,24.8 L681.1,24.8 Q677.3,24.8 677.3,21 Z" fill="#e8c34f"/><rect x="666" y="-21.5" width="6.6" height="43" rx="3" fill="#eac95e"/><rect x="654.9" y="-21.5" width="6.5" height="43" rx="3" fill="#eac95e"/><path d="M648.2,-21.5 Q650.4,-21.5 650.4,-19.3 L650.4,19.3 Q650.4,21.5 648.2,21.5 Q646,21.5 646,19.3 L646,15.5 L638.6,4.2 Q638,3.4 638,2.4 L638,-3.4 Q638,-4.4 638.6,-5.2 L646,-15.5 L646,-19.3 Q646,-21.5 648.2,-21.5Z" fill="#eac95e"/><text x="731" y="6.5">中东、北非</text></g>
<g transform="translate(0,794.75)"><path d="M677.3,-21 Q677.3,-24.8 681.1,-24.8 L694.5,-24.8 Q697.2,-24.8 698.5,-27.3 A45,45 0 1 1 697.7,27.0 Q696.2,24.8 693.2,24.8 L681.1,24.8 Q677.3,24.8 677.3,21 Z" fill="#c2d740"/><rect x="666" y="-21.5" width="6.6" height="43" rx="3" fill="#c8db50"/><rect x="654.9" y="-21.5" width="6.5" height="43" rx="3" fill="#c8db50"/><path d="M648.2,-21.5 Q650.4,-21.5 650.4,-19.3 L650.4,19.3 Q650.4,21.5 648.2,21.5 Q646,21.5 646,19.3 L646,15.5 L638.6,4.2 Q638,3.4 638,2.4 L638,-3.4 Q638,-4.4 638.6,-5.2 L646,-15.5 L646,-19.3 Q646,-21.5 648.2,-21.5Z" fill="#c8db50"/><text x="728.6" y="-3.2">拉丁美洲和</text><text x="728.6" y="15.2">加勒比</text></g>
<g transform="translate(-3.0,935.32)"><path d="M677.3,-21 Q677.3,-24.8 681.1,-24.8 L694.5,-24.8 Q697.2,-24.8 698.5,-27.3 A45,45 0 1 1 697.7,27.0 Q696.2,24.8 693.2,24.8 L681.1,24.8 Q677.3,24.8 677.3,21 Z" fill="#46aac4"/><rect x="666" y="-21.5" width="6.6" height="43" rx="3" fill="#55b2ca"/><rect x="654.9" y="-21.5" width="6.5" height="43" rx="3" fill="#55b2ca"/><path d="M648.2,-21.5 Q650.4,-21.5 650.4,-19.3 L650.4,19.3 Q650.4,21.5 648.2,21.5 Q646,21.5 646,19.3 L646,15.5 L638.6,4.2 Q638,3.4 638,2.4 L638,-3.4 Q638,-4.4 638.6,-5.2 L646,-15.5 L646,-19.3 Q646,-21.5 648.2,-21.5Z" fill="#55b2ca"/><text x="731.6" y="-3.2">撒哈拉以南</text><text x="731.6" y="15.2">非洲</text></g>
</svg>
</body></html>
